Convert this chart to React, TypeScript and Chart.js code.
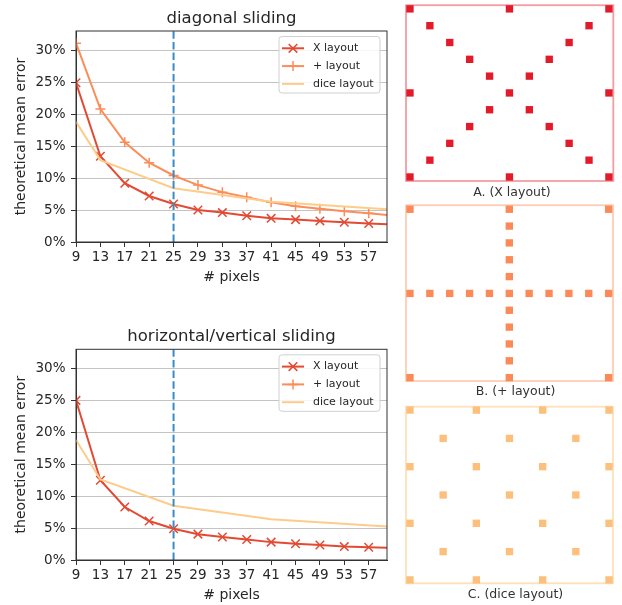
import React, { useEffect, useRef } from 'react';
import { Chart, registerables } from 'chart.js';

Chart.register(...registerables);

const FONT = "'DejaVu Sans', sans-serif";
Chart.defaults.font.family = FONT;
Chart.defaults.color = '#262626';

// ---- data: line charts ----
const pixelCounts = [9, 13, 17, 21, 25, 29, 33, 37, 41, 45, 49, 53, 57, 61];
const diceCounts = [9, 13, 25, 41, 61];
const xTickValues = [9, 13, 17, 21, 25, 29, 33, 37, 41, 45, 49, 53, 57];
const yTickValues = [0, 5, 10, 15, 20, 25, 30];
const chosenPixels = 25;
const xRange = [9, 60];
const yRange = [0, 33];

const diagX = [24.9, 13.4, 9.2, 7.2, 5.95, 5.0, 4.6, 4.1, 3.7, 3.5, 3.3, 3.1, 2.9, 2.75];
const diagPlus = [31.1, 20.8, 15.6, 12.4, 10.4, 8.9, 7.8, 7.0, 6.2, 5.6, 5.2, 4.8, 4.5, 4.15];
const diagDice = [18.8, 12.8, 8.4, 6.3, 5.05];

const hvX = [25.0, 12.5, 8.3, 6.1, 4.9, 4.05, 3.6, 3.2, 2.8, 2.55, 2.35, 2.1, 2.0, 1.9];
const hvPlus: number[] = [];
const hvDice = [18.8, 12.6, 8.5, 6.4, 5.2];

// ---- data: layout diagrams (grid indices) ----
const xLayoutPts = [
  [0, 0], [5, 0], [10, 0],
  [1, 1], [9, 1], [2, 2], [8, 2], [3, 3], [7, 3], [4, 4], [6, 4],
  [0, 5], [5, 5], [10, 5],
  [4, 6], [6, 6], [3, 7], [7, 7], [2, 8], [8, 8], [1, 9], [9, 9],
  [0, 10], [5, 10], [10, 10],
];
const plusLayoutPts = [
  [0, 0], [10, 0], [0, 10], [10, 10],
  [5, 0], [5, 1], [5, 2], [5, 3], [5, 4], [5, 6], [5, 7], [5, 8], [5, 9], [5, 10],
  [0, 5], [1, 5], [2, 5], [3, 5], [4, 5], [5, 5], [6, 5], [7, 5], [8, 5], [9, 5], [10, 5],
];
const diceLayoutPts = [
  [0, 0], [2, 0], [4, 0], [6, 0],
  [1, 1], [3, 1], [5, 1],
  [0, 2], [2, 2], [4, 2], [6, 2],
  [1, 3], [3, 3], [5, 3],
  [0, 4], [2, 4], [4, 4], [6, 4],
  [1, 5], [3, 5], [5, 5],
  [0, 6], [2, 6], [4, 6], [6, 6],
];

const COLORS = { x: '#e34a33', plus: '#fc8d59', dice: '#fdcc8a', vline: '#3a8bc6' };

const framePlugin = {
  id: 'frame',
  beforeDatasetsDraw(chart: any, _a: any, opts: any) {
    if (opts && opts.before) drawFrame(chart, opts);
  },
  afterDatasetsDraw(chart: any, _a: any, opts: any) {
    if (opts && !opts.before) drawFrame(chart, opts);
  },
};
function drawFrame(chart: any, opts: any) {
  const { ctx, chartArea } = chart;
  ctx.save();
  ctx.strokeStyle = opts.color;
  ctx.lineWidth = opts.width;
  ctx.strokeRect(chartArea.left, chartArea.top, chartArea.right - chartArea.left, chartArea.bottom - chartArea.top);
  ctx.restore();
}

// text placed relative to the chart area (plot title above, caption below)
const areaText = {
  id: 'areaText',
  afterDraw(chart: any, _a: any, opts: any) {
    if (!opts || !opts.text) return;
    const { ctx, chartArea } = chart;
    ctx.save();
    ctx.font = `${opts.size}px ${FONT}`;
    ctx.fillStyle = opts.color;
    ctx.textAlign = 'center';
    ctx.textBaseline = 'alphabetic';
    const x = (chartArea.left + chartArea.right) / 2 + (opts.dx || 0);
    const y = opts.below ? chartArea.bottom + opts.gap : chartArea.top - opts.gap;
    ctx.fillText(opts.text, x, y);
    ctx.restore();
  },
};

function roundRect(ctx: CanvasRenderingContext2D, x: number, y: number, w: number, h: number, r: number) {
  ctx.beginPath();
  ctx.moveTo(x + r, y);
  ctx.lineTo(x + w - r, y);
  ctx.arcTo(x + w, y, x + w, y + r, r);
  ctx.lineTo(x + w, y + h - r);
  ctx.arcTo(x + w, y + h, x + w - r, y + h, r);
  ctx.lineTo(x + r, y + h);
  ctx.arcTo(x, y + h, x, y + h - r, r);
  ctx.lineTo(x, y + r);
  ctx.arcTo(x, y, x + r, y, r);
  ctx.closePath();
}

const innerLegend = {
  id: 'innerLegend',
  afterDraw(chart: any) {
    const { ctx, chartArea } = chart;
    const items = chart.data.datasets.filter((d: any) => d.label);
    const w = 101, h = 56.5, rowH = 17.8;
    const x0 = chartArea.right - 7 - w;
    const y0 = chartArea.top + 5.5;
    ctx.save();
    roundRect(ctx, x0, y0, w, h, 3);
    ctx.fillStyle = 'rgba(255,255,255,0.85)';
    ctx.fill();
    ctx.strokeStyle = '#d0d0d0';
    ctx.lineWidth = 1;
    ctx.stroke();
    items.forEach((d: any, i: number) => {
      const cy = y0 + 11.8 + i * rowH;
      ctx.strokeStyle = d.borderColor;
      ctx.lineWidth = 2;
      ctx.beginPath();
      ctx.moveTo(x0 + 3, cy);
      ctx.lineTo(x0 + 25, cy);
      ctx.stroke();
      const cx = x0 + 14;
      ctx.lineWidth = 1.5;
      if (d.pointStyle === 'crossRot') {
        const r = 4.3;
        ctx.beginPath();
        ctx.moveTo(cx - r, cy - r); ctx.lineTo(cx + r, cy + r);
        ctx.moveTo(cx - r, cy + r); ctx.lineTo(cx + r, cy - r);
        ctx.stroke();
      } else if (d.pointStyle === 'cross') {
        const r = 5;
        ctx.beginPath();
        ctx.moveTo(cx - r, cy); ctx.lineTo(cx + r, cy);
        ctx.moveTo(cx, cy - r); ctx.lineTo(cx, cy + r);
        ctx.stroke();
      }
      ctx.fillStyle = '#262626';
      ctx.font = `11px ${FONT}`;
      ctx.textBaseline = 'middle';
      ctx.textAlign = 'left';
      ctx.fillText(d.label, x0 + 34, cy);
    });
    ctx.restore();
  },
};

type LineProps = {
  title: string; xData: number[]; plusData: number[]; diceData: number[];
  left: number; top: number; width: number; height: number;
  areaTop: number; axisBottom: number; xTitlePadBottom: number;
};

function LineChart(p: LineProps) {
  const ref = useRef<HTMLCanvasElement>(null);
  useEffect(() => {
    const chart = new Chart(ref.current as HTMLCanvasElement, {
      type: 'line',
      data: {
        datasets: [
          {
            label: 'X layout',
            data: p.xData.map((y, i) => ({ x: pixelCounts[i], y })),
            borderColor: COLORS.x, backgroundColor: COLORS.x,
            borderWidth: 2, pointStyle: 'crossRot', pointRadius: 6, pointBorderWidth: 1.5,
            tension: 0, clip: 0, order: 3,
          },
          {
            label: '+ layout',
            data: p.plusData.map((y, i) => ({ x: pixelCounts[i], y })),
            borderColor: COLORS.plus, backgroundColor: COLORS.plus,
            borderWidth: 2, pointStyle: 'cross', pointRadius: 5, pointBorderWidth: 1.5,
            tension: 0, clip: 0, order: 2,
          },
          {
            label: 'dice layout',
            data: p.diceData.map((y, i) => ({ x: diceCounts[i], y })),
            borderColor: COLORS.dice, backgroundColor: COLORS.dice,
            borderWidth: 2, pointRadius: 0, tension: 0, clip: 0, order: 1,
          },
          {
            label: '',
            data: [{ x: chosenPixels, y: yRange[0] }, { x: chosenPixels, y: yRange[1] }],
            borderColor: COLORS.vline, borderWidth: 2, borderDash: [7.5, 3.2],
            pointRadius: 0, clip: 0, order: 0,
          },
        ] as any,
      },
      options: {
        responsive: false,
        animation: false,
        maintainAspectRatio: false,
        layout: { padding: { left: 0, right: 8, top: p.areaTop, bottom: 0 } },
        plugins: {
          legend: { display: false },
          tooltip: { enabled: false },
          title: { display: false },
          frame: { color: '#333', width: 1, before: false },
          areaText: { text: p.title, size: 16.5, color: '#262626', gap: 8, below: false, dx: 0 },
        } as any,
        scales: {
          x: {
            type: 'linear', min: xRange[0], max: xRange[1],
            afterBuildTicks: (s: any) => { s.ticks = xTickValues.map((v) => ({ value: v })); },
            afterFit: (s: any) => { s.height = p.height - p.axisBottom; },
            ticks: { font: { size: 13.5 }, color: '#262626', padding: 2, maxRotation: 0, autoSkip: false },
            grid: { drawOnChartArea: false, drawTicks: true, tickLength: 5, tickColor: '#333', color: '#333' },
            border: { color: '#333', width: 1 },
            title: {
              display: true, text: '# pixels', color: '#262626',
              font: { size: 14 }, padding: { top: 0, bottom: p.xTitlePadBottom },
            },
          },
          y: {
            type: 'linear', min: yRange[0], max: yRange[1],
            afterBuildTicks: (s: any) => { s.ticks = yTickValues.map((v) => ({ value: v })); },
            afterFit: (s: any) => { s.width = 76; },
            ticks: { font: { size: 13.5 }, color: '#262626', padding: 5.5, callback: (v: any) => v + '%' },
            grid: { color: '#c4c4c4', lineWidth: 1, tickLength: 5, tickColor: '#333' },
            border: { color: '#333', width: 1 },
            title: {
              display: true, text: 'theoretical mean error', color: '#262626',
              font: { size: 14 }, padding: { top: 12.5, bottom: 0 },
            },
          },
        } as any,
      },
      plugins: [framePlugin, areaText, innerLegend],
    });
    return () => chart.destroy();
  }, []);
  return (
    <canvas ref={ref} width={p.width} height={p.height}
      style={{ position: 'absolute', left: p.left, top: p.top, width: p.width, height: p.height }} />
  );
}

type DiagProps = {
  pts: number[][]; xMin: number; xMax: number; yMin: number; yMax: number;
  color: string; frameColor: string; caption: string; capDx: number; capGap: number;
  left: number; top: number; width: number; height: number;
  pad: { left: number; right: number; top: number; bottom: number };
};

function LayoutDiagram(p: DiagProps) {
  const ref = useRef<HTMLCanvasElement>(null);
  useEffect(() => {
    const chart = new Chart(ref.current as HTMLCanvasElement, {
      type: 'scatter',
      data: {
        datasets: [{
          data: p.pts.map(([x, y]) => ({ x, y })),
          pointStyle: 'rect', pointRadius: 5.2, pointBorderWidth: 0,
          backgroundColor: p.color, borderColor: p.color, clip: false,
        }] as any,
      },
      options: {
        responsive: false,
        animation: false,
        maintainAspectRatio: false,
        layout: { padding: p.pad },
        plugins: {
          legend: { display: false },
          tooltip: { enabled: false },
          title: { display: false },
          frame: { color: p.frameColor, width: 1.8, before: true },
          areaText: { text: p.caption, size: 12.5, color: '#333', gap: p.capGap, below: true, dx: p.capDx },
        } as any,
        scales: {
          x: { type: 'linear', display: false, min: p.xMin, max: p.xMax },
          y: { type: 'linear', display: false, min: p.yMin, max: p.yMax, reverse: true },
        },
      },
      plugins: [framePlugin, areaText],
    });
    return () => chart.destroy();
  }, []);
  return (
    <canvas ref={ref} width={p.width} height={p.height}
      style={{ position: 'absolute', left: p.left, top: p.top, width: p.width, height: p.height }} />
  );
}

export default function App() {
  return (
    <div style={{ position: 'fixed', left: 0, top: 0, width: 622, height: 605, background: '#fff', overflow: 'hidden' }}>
      <LineChart title="diagonal sliding" xData={diagX} plusData={diagPlus} diceData={diagDice}
        left={0} top={0} width={395} height={300} areaTop={31} axisBottom={242} xTitlePadBottom={14.6} />
      <LineChart title="horizontal/vertical sliding" xData={hvX} plusData={hvPlus} diceData={hvDice}
        left={0} top={300} width={395} height={305} areaTop={49.3} axisBottom={260} xTitlePadBottom={1.6} />
      <LayoutDiagram pts={xLayoutPts} xMin={-0.2} xMax={10.22} yMin={-0.22} yMax={10.24}
        color="#e31a2a" frameColor="rgba(232,60,70,0.5)" caption="A. (X layout)" capDx={2.3} capGap={15}
        left={400} top={0} width={222} height={200}
        pad={{ left: 6, right: 8.7, top: 3, bottom: 19 }} />
      <LayoutDiagram pts={plusLayoutPts} xMin={-0.2} xMax={10.22} yMin={-0.24} yMax={10.2}
        color="#fc8a58" frameColor="rgba(252,141,89,0.45)" caption="B. (+ layout)" capDx={6} capGap={14}
        left={400} top={200} width={222} height={200}
        pad={{ left: 6, right: 9, top: 4.3, bottom: 19 }} />
      <LayoutDiagram pts={diceLayoutPts} xMin={-0.12} xMax={6.12} yMin={-0.12} yMax={6.12}
        color="#fdc07c" frameColor="rgba(253,204,138,0.6)" caption="C. (dice layout)" capDx={6} capGap={14.4}
        left={400} top={400} width={222} height={205}
        pad={{ left: 6, right: 9, top: 6.7, bottom: 21.7 }} />
    </div>
  );
}
